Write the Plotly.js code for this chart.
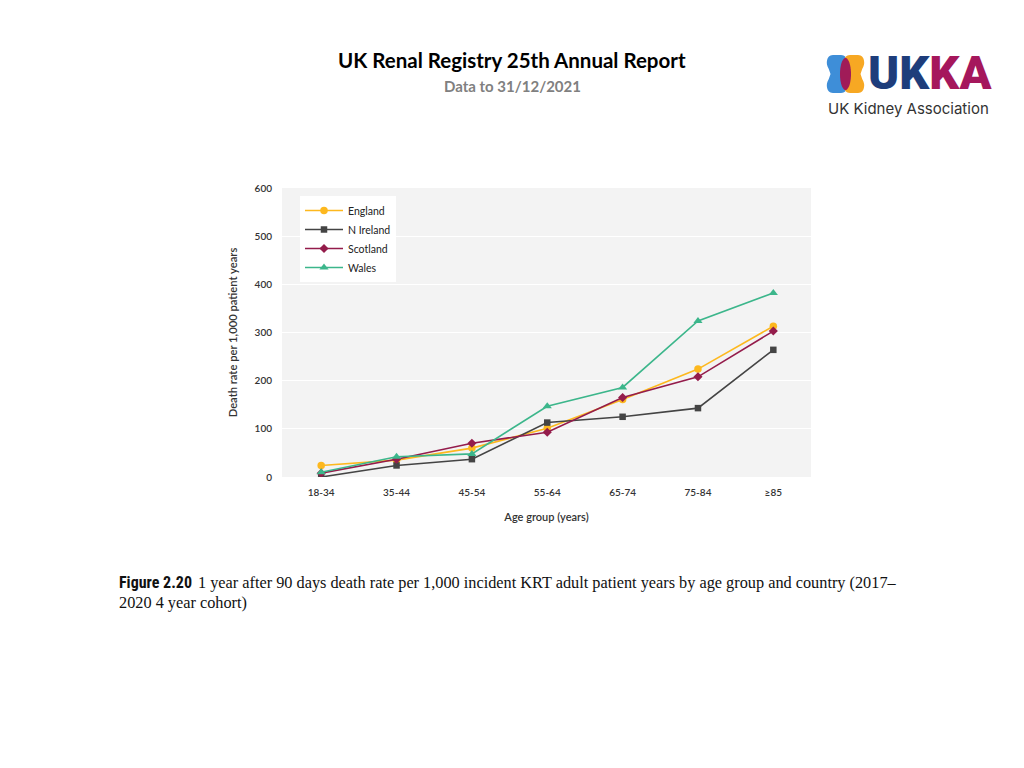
<!DOCTYPE html>
<html>
<head>
<meta charset="utf-8">
<script src="https://cdn.plot.ly/plotly-3.0.1.min.js"></script>
<style>
html,body{margin:0;padding:0;background:#fff;}
#chart{width:1024px;height:768px;}
</style>
</head>
<body>
<div id="chart"></div>
<script>
// ---- Data ----
const ageGroups = ["18-34", "35-44", "45-54", "55-64", "65-74", "75-84", "\u226585"];
const england   = [24, 35, 60, 101, 161, 224, 313];
const nIreland  = [0, 24, 37, 113, 125, 143, 264];
const scotland  = [8, 37, 70, 93, 165, 208, 303];
const wales     = [10, 42, 48, 147, 186, 324, 382];
const seriesNames = ["England", "N Ireland", "Scotland", "Wales"];
const yTicks = [0, 100, 200, 300, 400, 500, 600];

// ---- Layout helpers (pixel -> paper coords) ----
const L = 282, R = 811, T = 188, B = 477;
const W = 1024, H = 768;
const px = x => (x - L) / (R - L);
const py = y => (B - y) / (B - T);

const colors = ["#FDB81E", "#444444", "#941C4B", "#3CB68B"];
const symbols = ["circle", "square", "diamond", "triangle-up"];
const sizes = [7.5, 6.5, 7, 8];
const vals = [england, nIreland, scotland, wales];

const traces = seriesNames.map((n, i) => ({
  type: "scatter",
  mode: "lines+markers",
  name: n,
  x: ageGroups,
  y: vals[i],
  line: {color: colors[i], width: 1.6},
  marker: {color: colors[i], symbol: symbols[i], size: sizes[i]}
}));

const fontUI = "Lato, 'Open Sans', sans-serif";

// logo icon paths (paper coords built from pixel positions)
function pathFromPts(pts) {
  return pts.map((p, k) => (k === 0 ? "M" : "L") + px(p[0]).toFixed(4) + "," + py(p[1]).toFixed(4)).join(" ") + " Z";
}
function blob(cx, outerSign) {
  const pts = [];
  const N = 60, cy = 74, hh = 19, hw = 11;
  for (let k = 0; k <= N; k++) {
    const t = k / N * 2 * Math.PI;
    const c = Math.cos(t), s = Math.sin(t);
    const yy = cy - hh * Math.sign(c) * Math.pow(Math.abs(c), 0.6);
    let wx = hw * Math.sign(s) * Math.pow(Math.abs(s), 0.45);
    if (Math.sign(s) === outerSign) {
      wx -= Math.sign(s) * 4.5 * Math.exp(-Math.pow((yy - cy) / 7, 2));
    }
    pts.push([cx + wx, yy]);
  }
  return pathFromPts(pts);
}

const shapes = [
  {type: "path", xref: "paper", yref: "paper", path: blob(837, -1), fillcolor: "#3E8ED8", line: {width: 0}, layer: "above"},
  {type: "path", xref: "paper", yref: "paper", path: blob(854, 1), fillcolor: "#F7A823", line: {width: 0}, layer: "above"},
];
// overlap lens
(function(){
  const pts = [];
  const N = 30;
  for (let k = 0; k <= 2 * N; k++) {
    const t = -Math.PI/2 + k / N * Math.PI;
    pts.push([845.5 + 5.5 * Math.cos(t), 74 + 16 * Math.sin(t)]);
  }
  shapes.push({type: "path", xref: "paper", yref: "paper", path: pathFromPts(pts), fillcolor: "#A01B58", line: {width: 0}, layer: "above"});
})();

const annotations = [
  {text: "<b>UK Renal Registry 25th Annual Report</b>", xref: "paper", yref: "paper", x: px(512), y: py(60), xanchor: "center", yanchor: "middle", showarrow: false, font: {family: fontUI, size: 20.5, color: "#000"}},
  {text: "<b>Data to 31/12/2021</b>", xref: "paper", yref: "paper", x: px(512), y: py(86), xanchor: "center", yanchor: "middle", showarrow: false, font: {family: fontUI, size: 15, color: "#808080"}},
  {text: "<span style='color:#1E3D7B'>UK</span><span style='color:#A5175C'>KA</span>", xref: "paper", yref: "paper", x: px(866), y: py(73), xanchor: "left", yanchor: "middle", showarrow: false, font: {family: "Roboto, Inter, sans-serif", size: 47, color: "#1E3D7B", weight: 900}},
  {text: "UK Kidney Association", xref: "paper", yref: "paper", x: px(908), y: py(108), xanchor: "center", yanchor: "middle", showarrow: false, font: {family: "Inter, 'Open Sans', sans-serif", size: 15, color: "#333333"}},
  {text: "<b>Figure 2.20</b>", xref: "paper", yref: "paper", x: px(117), y: py(582), xanchor: "left", yanchor: "middle", showarrow: false, font: {family: "'Liberation Sans Narrow', 'Roboto Condensed', Roboto, sans-serif", size: 16, color: "#111"}},
  {text: "1 year after 90 days death rate per 1,000 incident KRT adult patient years by age group and country (2017\u2013", xref: "paper", yref: "paper", x: px(196), y: py(582), xanchor: "left", yanchor: "middle", showarrow: false, font: {family: "'Liberation Serif', 'DejaVu Serif', serif", size: 16.3, color: "#111"}},
  {text: "2020 4 year cohort)", xref: "paper", yref: "paper", x: px(117), y: py(602), xanchor: "left", yanchor: "middle", showarrow: false, font: {family: "'Liberation Serif', 'DejaVu Serif', serif", size: 16.3, color: "#111"}}
];

const layout = {
  width: W, height: H,
  paper_bgcolor: "#ffffff",
  plot_bgcolor: "#f3f3f3",
  margin: {l: L, r: W - R, t: T, b: H - B, pad: 0},
  showlegend: true,
  legend: {
    x: px(300), y: py(196), xanchor: "left", yanchor: "top",
    bgcolor: "#ffffff", borderwidth: 0,
    font: {family: fontUI, size: 10.5, color: "#222"},
    itemwidth: 38, tracegroupgap: 0,
    traceorder: "normal"
  },
  xaxis: {
    type: "category",
    range: [-0.52, 6.5],
    showgrid: false, zeroline: false, showline: false,
    ticks: "", ticklabelstandoff: 8,
    tickfont: {family: fontUI, size: 10, color: "#333", weight: 600},
    title: {text: "Age group (years)", font: {family: fontUI, size: 11, color: "#333", weight: 600}, standoff: 16}
  },
  yaxis: {
    range: [0, 600],
    tickvals: yTicks,
    ticktext: yTicks.map(String),
    showgrid: true, gridcolor: "#ffffff", gridwidth: 1,
    zeroline: false, showline: false, ticks: "",
    ticklabelstandoff: 9,
    tickfont: {family: fontUI, size: 10, color: "#333", weight: 600},
    title: {text: "Death rate per 1,000 patient years", font: {family: fontUI, size: 11.2, color: "#333", weight: 600}, standoff: 14}
  },
  shapes: shapes,
  annotations: annotations
};

Plotly.newPlot("chart", traces, layout, {displayModeBar: false, staticPlot: true});
</script>
</body>
</html>
